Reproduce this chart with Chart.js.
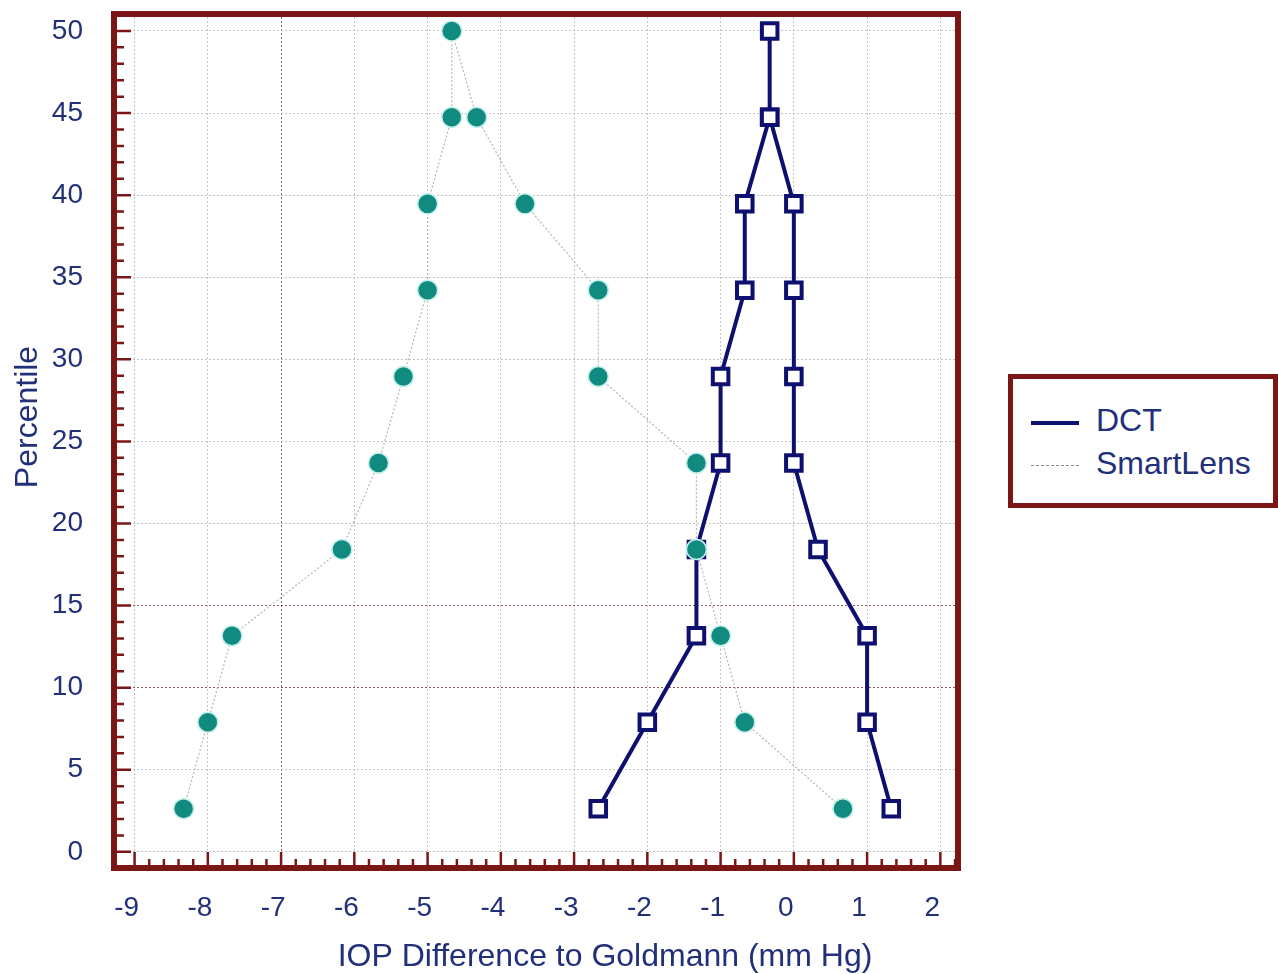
<!DOCTYPE html>
<html>
<head>
<meta charset="utf-8">
<title>IOP Difference to Goldmann</title>
<script src="https://cdn.jsdelivr.net/npm/chart.js@4.4.1/dist/chart.umd.min.js"></script>
<style>
  html, body { margin: 0; padding: 0; background: #fff; }
  #wrap { position: relative; width: 1278px; height: 974px; }
  #legend {
    position: absolute; left: 1008px; top: 374px; width: 270px; height: 134px;
    box-sizing: border-box; border: 5px solid #7b1616; background: #fff;
    font-family: "Liberation Sans", Arial, sans-serif; font-size: 32px; color: #22307a;
  }
  .item { position: absolute; left: 18px; height: 36px; line-height: 36px; white-space: nowrap; }
  .swatch { display: inline-block; width: 48px; vertical-align: middle; margin-right: 17px; }
</style>
</head>
<body>
<div id="wrap">
  <canvas id="iopChart" width="1278" height="974"></canvas>
  <div id="legend">
    <div class="item" style="top:23px"><span class="swatch" style="border-top:4px solid #0e1070"></span>DCT</div>
    <div class="item" style="top:66px"><span class="swatch" style="border-top:1px dashed #8a8a8a"></span>SmartLens</div>
  </div>
</div>
<script>
// percentile position of each sorted value (folded at 50)
var percentiles = [2.63, 7.89, 13.16, 18.42, 23.68, 28.95, 34.21, 39.47, 44.74, 50,
                   44.74, 39.47, 34.21, 28.95, 23.68, 18.42, 13.16, 7.89, 2.63];
var dctValues = [-2.67, -2, -1.33, -1.33, -1, -1, -0.67, -0.67, -0.33, -0.33,
                 -0.33, 0, 0, 0, 0, 0.33, 1, 1, 1.33];
var smartLensValues = [-8.33, -8, -7.67, -6.17, -5.67, -5.33, -5, -5, -4.67, -4.67,
                       -4.33, -3.67, -2.67, -2.67, -1.33, -1.33, -1, -0.67, 0.67];
var xTicks = [-9, -8, -7, -6, -5, -4, -3, -2, -1, 0, 1, 2];
var yTicks = [0, 5, 10, 15, 20, 25, 30, 35, 40, 45, 50];

var frameColor = '#7b1616';
var textColor = '#22307a';
var fontFamily = '"Liberation Sans", Arial, sans-serif';

function toPoints(values) {
  return percentiles.map(function(p, i) { return { x: values[i], y: p }; });
}

// frame, inward tick marks and axis titles
var framePlugin = {
  id: 'framePlugin',
  afterDraw: function(chart) {
    var ctx = chart.ctx;
    var a = chart.chartArea;
    var xs = chart.scales.x, ys = chart.scales.y;
    ctx.save();
    ctx.strokeStyle = frameColor;
    ctx.lineWidth = 2.5;
    ctx.beginPath();
    for (var v = -9; v <= 2.2001; v += 0.2) {
      var px = xs.getPixelForValue(v);
      var major = Math.abs(v - Math.round(v)) < 0.01;
      ctx.moveTo(px, a.bottom);
      ctx.lineTo(px, a.bottom - (major ? 13 : 6));
    }
    for (var w = 0; w <= 50; w++) {
      var py = ys.getPixelForValue(w);
      ctx.moveTo(a.left, py);
      ctx.lineTo(a.left + (w % 5 === 0 ? 14 : 7), py);
    }
    ctx.stroke();

    ctx.lineWidth = 6;
    ctx.strokeRect(a.left - 3, a.top - 3, a.right - a.left + 6, a.bottom - a.top + 6);

    ctx.fillStyle = textColor;
    ctx.font = '32px ' + fontFamily;
    ctx.textAlign = 'center';
    ctx.textBaseline = 'middle';
    ctx.fillText('IOP Difference to Goldmann (mm Hg)', 605, 957);
    ctx.translate(28, 417);
    ctx.rotate(-Math.PI / 2);
    ctx.fillText('Percentile', 0, 0);
    ctx.restore();
  }
};

var ctx = document.getElementById('iopChart').getContext('2d');
var iopChart = new Chart(ctx, {
  type: 'scatter',
  data: {
    datasets: [
      {
        label: 'DCT',
        data: toPoints(dctValues),
        showLine: true,
        borderColor: '#0e1070',
        borderWidth: 4,
        pointStyle: 'rect',
        pointRadius: 11,
        pointBackgroundColor: '#ffffff',
        pointBorderColor: '#0e1070',
        pointBorderWidth: 4,
        order: 1
      },
      {
        label: 'SmartLens',
        data: toPoints(smartLensValues),
        showLine: true,
        borderColor: '#b5b5b5',
        borderWidth: 1.2,
        borderDash: [2, 2],
        pointStyle: 'circle',
        pointRadius: 10,
        pointBackgroundColor: '#118a80',
        pointBorderColor: '#c4f0ec',
        pointBorderWidth: 1.5,
        order: 0
      }
    ]
  },
  options: {
    responsive: false,
    animation: false,
    layout: { padding: { left: 0, top: 17, right: 323, bottom: 0 } },
    plugins: {
      legend: { display: false },
      tooltip: { enabled: false }
    },
    scales: {
      x: {
        type: 'linear',
        min: -9.24,
        max: 2.2,
        afterBuildTicks: function(s) { s.ticks = xTicks.map(function(v) { return { value: v }; }); },
        afterFit: function(s) { s.height = 109; s.paddingLeft = 0; s.paddingRight = 0; },
        grid: {
          drawTicks: false,
          lineWidth: 1,
          color: function(c) { return c.tick && c.tick.value === -7 ? '#6e6e6e' : '#c2c2c2'; }
        },
        border: { display: false, dash: [2, 2] },
        ticks: {
          color: textColor,
          font: { family: fontFamily, size: 28 },
          padding: 26,
          labelOffset: -8
        }
      },
      y: {
        type: 'linear',
        min: -0.8,
        max: 50.85,
        afterBuildTicks: function(s) { s.ticks = yTicks.map(function(v) { return { value: v }; }); },
        afterFit: function(s) { s.width = 117; s.paddingTop = 0; s.paddingBottom = 0; },
        grid: {
          drawTicks: false,
          lineWidth: 1,
          color: function(c) {
            return c.tick && (c.tick.value === 10 || c.tick.value === 15) ? '#8a5a5a' : '#c2c2c2';
          }
        },
        border: { display: false, dash: [2, 2] },
        ticks: {
          color: textColor,
          font: { family: fontFamily, size: 28 },
          padding: 34
        }
      }
    }
  },
  plugins: [framePlugin]
});
</script>
</body>
</html>
